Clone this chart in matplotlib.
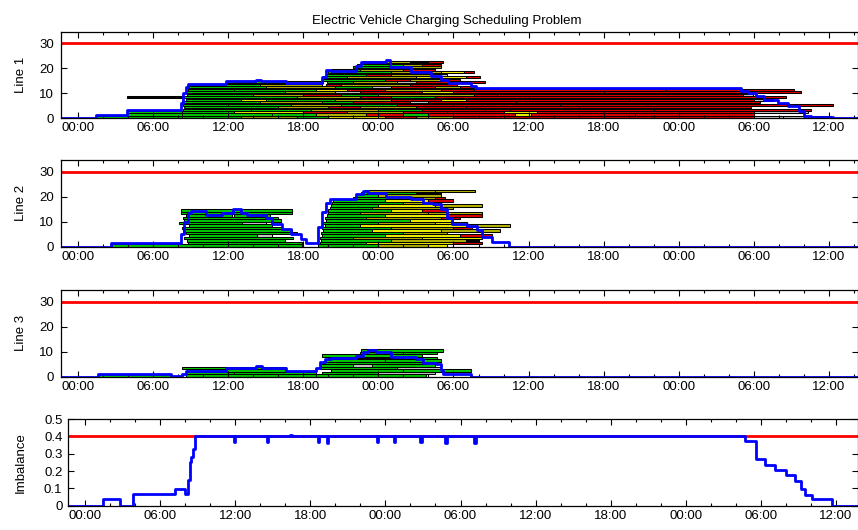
import matplotlib
matplotlib.use("Agg")
import matplotlib.pyplot as plt
from matplotlib.ticker import MultipleLocator, FuncFormatter

plt.rcParams['font.family'] = ['Liberation Sans', 'DejaVu Sans']
plt.rcParams['font.size'] = 9.5

# charging state of a vehicle segment -> colour
STATE_COLORS = {'G': '#00c800', 'O': '#b4b400', 'Y': '#f0f000',
                'R': '#e00000', 'S': '#c8c8c8', 'K': '#000000'}

LINE_LIMIT = 30
IMBALANCE_LIMIT = 0.4

# one list per stacking row: (start hour, end hour, state)
LINE1_ROWS = [
    [(1.4, 8.3, 'G'), (8.3, 13.0, 'G'), (13.0, 17.5, 'O'), (17.5, 20.0, 'G'), (20.0, 24.5, 'Y'), (24.5, 27.0, 'R'),
     (27.0, 30.0, 'O'), (30.0, 42.0, 'R'), (42.0, 54.0, 'R'), (54.0, 56.3, 'S'), (56.3, 58.3, 'S'), (58.3, 60.2, 'S')],
    [(3.9, 8.3, 'G'), (8.3, 15.5, 'G'), (15.5, 19.0, 'G'), (19.0, 23.0, 'O'), (23.0, 26.0, 'R'), (26.0, 28.0, 'G'),
     (28.0, 34.9, 'R'), (34.9, 36.2, 'Y'), (36.2, 44.5, 'R'), (44.5, 54.0, 'R')],
    [(3.9, 8.3, 'G'), (8.3, 12.5, 'G'), (12.5, 18.0, 'Y'), (18.0, 21.5, 'R'), (21.5, 26.0, 'O'), (26.0, 29.5, 'R'),
     (29.5, 34.0, 'R'), (34.0, 36.7, 'Y'), (36.7, 54.0, 'R'), (54.0, 58.3, 'S')],
    [(8.4, 13.8, 'G'), (13.8, 18.6, 'G'), (18.6, 24.0, 'O'), (24.0, 27.5, 'G'), (27.5, 32.5, 'R'), (32.5, 34.5, 'R'),
     (34.5, 46.0, 'R'), (46.0, 58.6, 'R')],
    [(8.5, 16.0, 'G'), (16.0, 20.0, 'O'), (20.0, 22.5, 'R'), (22.5, 27.0, 'O'), (27.0, 31.0, 'R'), (31.0, 40.0, 'R'),
     (40.0, 53.8, 'R')],
    [(8.4, 12.0, 'G'), (12.0, 17.0, 'G'), (17.0, 21.0, 'O'), (21.0, 25.5, 'G'), (25.5, 30.0, 'R'), (30.0, 38.5, 'R'),
     (38.5, 60.3, 'R')],
    [(8.3, 14.5, 'G'), (14.5, 19.5, 'O'), (19.5, 22.0, 'G'), (22.0, 26.5, 'R'), (26.5, 28.0, 'S'), (28.0, 35.0, 'R'),
     (35.0, 54.5, 'R')],
    [(8.6, 13.0, 'G'), (13.0, 15.0, 'Y'), (15.0, 20.5, 'G'), (20.5, 25.0, 'O'), (25.0, 29.0, 'R'), (29.0, 31.0, 'Y'),
     (31.0, 44.0, 'R'), (44.0, 54.0, 'R'), (54.0, 55.5, 'S')],
    [(3.9, 8.3, 'K'), (8.5, 17.5, 'G'), (17.5, 22.5, 'O'), (22.5, 25.0, 'R'), (25.0, 28.5, 'G'), (28.5, 36.0, 'R'),
     (36.0, 56.6, 'R')],
    [(8.7, 14.0, 'G'), (14.0, 18.0, 'O'), (18.0, 21.0, 'R'), (21.0, 24.0, 'G'), (24.0, 31.6, 'O'), (31.6, 33.5, 'R'),
     (33.5, 53.1, 'R'), (53.1, 53.9, 'S')],
    [(8.6, 16.5, 'G'), (16.5, 20.5, 'O'), (20.5, 22.5, 'S'), (22.5, 27.5, 'R'), (27.5, 30.0, 'Y'), (30.0, 42.0, 'R'),
     (42.0, 57.8, 'R')],
    [(8.8, 12.5, 'G'), (12.5, 19.0, 'G'), (19.0, 21.5, 'Y'), (21.5, 24.5, 'R'), (24.5, 29.0, 'O'), (29.0, 31.6, 'R'),
     (31.6, 47.0, 'R'), (47.0, 57.2, 'R')],
    [(8.7, 15.0, 'G'), (15.0, 20.5, 'O'), (20.5, 23.5, 'G'), (23.5, 25.0, 'S'), (25.0, 28.5, 'R'), (28.5, 30.5, 'O'),
     (30.5, 31.6, 'R')],
    [(8.9, 14.5, 'G'), (14.5, 19.5, 'O'), (19.8, 21.0, 'R'), (21.0, 26.5, 'O'), (26.5, 30.3, 'R')],
    [(11.8, 16.5, 'G'), (16.5, 19.6, 'O'), (19.9, 22.0, 'G'), (22.0, 25.5, 'O'), (25.5, 27.0, 'S'), (27.0, 32.5, 'R')],
    [(19.5, 24.5, 'G'), (24.5, 26.5, 'R'), (26.5, 29.5, 'O'), (29.5, 30.5, 'R')],
    [(19.6, 21.5, 'G'), (21.5, 27.0, 'O'), (27.0, 31.0, 'Y'), (31.0, 32.1, 'R')],
    [(19.8, 23.0, 'G'), (23.0, 25.0, 'R'), (25.0, 28.5, 'O'), (28.5, 29.5, 'S')],
    [(20.0, 25.0, 'G'), (25.0, 29.0, 'O'), (29.0, 30.8, 'Y'), (30.8, 31.6, 'R')],
    [(20.2, 22.5, 'G'), (22.5, 26.0, 'O'), (26.0, 28.5, 'R')],
    [(22.0, 25.5, 'G'), (25.5, 29.0, 'O')],
    [(22.3, 26.0, 'G'), (26.0, 27.5, 'O'), (27.5, 29.0, 'R')],
    [(22.8, 26.5, 'O'), (26.5, 28.0, 'K'), (28.0, 29.2, 'R')],
]

LINE2_ROWS = [
    [(2.7, 17.9, 'G'), (19.2, 24.0, 'G'), (24.0, 28.0, 'O'), (28.0, 29.5, 'Y')],
    [(8.8, 12.0, 'G'), (12.0, 17.9, 'G'), (19.3, 23.0, 'G'), (23.0, 30.0, 'Y'), (30.0, 32.3, 'R')],
    [(8.7, 16.5, 'G'), (19.4, 25.0, 'G'), (25.0, 31.0, 'O'), (31.0, 32.0, 'K')],
    [(8.5, 17.2, 'G'), (19.3, 22.0, 'G'), (22.0, 27.5, 'O'), (27.5, 32.3, 'Y')],
    [(8.9, 14.3, 'G'), (14.3, 15.5, 'S'), (19.5, 24.5, 'G'), (24.5, 30.5, 'Y'), (30.5, 33.1, 'R')],
    [(8.6, 17.5, 'G'), (19.4, 26.0, 'G'), (26.0, 29.5, 'O')],
    [(8.4, 17.1, 'G'), (19.6, 23.5, 'G'), (23.5, 29.0, 'Y'), (29.0, 33.7, 'O')],
    [(8.3, 16.3, 'G'), (19.5, 25.0, 'G'), (25.0, 30.0, 'O'), (30.0, 31.5, 'R')],
    [(8.9, 15.5, 'G'), (19.7, 22.5, 'G'), (22.5, 31.0, 'Y'), (31.0, 34.5, 'O')],
    [(8.1, 13.1, 'G'), (13.1, 15.0, 'S'), (19.6, 24.0, 'G'), (24.0, 28.5, 'O'), (28.5, 31.1, 'Y')],
    [(8.5, 16.2, 'G'), (19.8, 26.5, 'G'), (26.5, 30.0, 'Y')],
    [(8.4, 16.0, 'G'), (19.7, 23.0, 'G'), (23.0, 29.0, 'O'), (29.0, 30.5, 'R')],
    [(8.6, 12.3, 'G'), (12.5, 15.3, 'G'), (19.9, 24.5, 'G'), (24.5, 29.5, 'Y'), (29.5, 32.3, 'R')],
    [(8.2, 17.1, 'G'), (20.0, 22.5, 'G'), (22.5, 28.0, 'O'), (28.0, 32.3, 'O')],
    [(8.2, 17.1, 'G'), (20.0, 25.0, 'G'), (25.0, 27.5, 'Y'), (27.5, 29.5, 'R')],
    [(20.1, 23.5, 'G'), (23.5, 30.0, 'O')],
    [(20.2, 24.0, 'G'), (24.0, 28.5, 'Y'), (28.5, 32.3, 'O')],
    [(20.3, 26.0, 'G'), (26.0, 29.0, 'O')],
    [(20.4, 24.5, 'G'), (24.5, 28.0, 'Y'), (28.0, 30.0, 'R')],
    [(22.0, 25.5, 'G'), (25.5, 28.5, 'O'), (28.5, 29.3, 'R')],
    [(22.3, 24.0, 'G'), (24.0, 29.0, 'O')],
    [(22.6, 27.0, 'G'), (27.0, 29.0, 'K')],
    [(22.9, 28.5, 'O'), (28.5, 31.7, 'O')],
]

LINE3_ROWS = [
    [(1.6, 7.4, 'G'), (8.6, 19.0, 'G'), (19.0, 27.8, 'G')],
    [(8.6, 12.5, 'G'), (12.5, 19.0, 'G'), (19.5, 24.0, 'G'), (24.0, 28.5, 'S')],
    [(8.7, 16.6, 'G'), (20.2, 26.0, 'G'), (26.0, 31.4, 'G')],
    [(8.3, 16.6, 'G'), (19.3, 25.5, 'G'), (25.5, 29.0, 'S')],
    [(19.4, 22.0, 'G'), (22.0, 23.5, 'S'), (23.5, 28.5, 'G')],
    [(19.6, 27.5, 'G'), (27.5, 28.5, 'K')],
    [(19.8, 24.5, 'G'), (24.5, 29.0, 'G')],
    [(20.0, 26.0, 'K'), (26.0, 28.7, 'G')],
    [(19.5, 27.5, 'G')],
    [(22.5, 26.0, 'G'), (26.0, 28.7, 'G')],
    [(22.6, 29.2, 'G')],
]

# total load per line (step, hours)
LINE1_T = [-1.4, 1.4, 3.9, 8.2, 8.4, 8.6, 8.8, 11.8, 14.2, 14.6, 16.6, 19.5, 19.8, 20.2, 22.2, 22.6, 24.6, 24.9,
           26.6, 28.2, 29.0, 29.6, 31.4, 31.8, 53.0, 53.5, 54.2, 54.8, 55.9, 56.7, 57.6, 58.0, 58.6, 60.3, 62.4]
LINE1_LOAD = [0, 1.2, 3.4, 6, 10, 12.5, 13.6, 14.8, 15.5, 15.0, 14.0, 16.5, 19.5, 19.0, 21.0, 22.5, 23.5, 20.5,
              18.5, 17.0, 15.3, 14.0, 13.0, 12.2, 11.0, 10.0, 9.0, 7.5, 6.0, 5.0, 3.0, 1.0, 0.5, 0.0, 0.0]

LINE2_T = [-1.4, 2.6, 8.2, 8.5, 8.8, 9.0, 10.2, 11.5, 12.4, 13.0, 13.5, 15.0, 15.5, 16.3, 17.0, 17.8, 18.2, 19.2,
           19.5, 19.8, 20.1, 22.2, 22.8, 23.2, 24.6, 26.6, 27.6, 28.4, 29.0, 29.5, 29.9, 31.1, 31.9, 32.3, 33.1,
           34.4, 62.4]
LINE2_LOAD = [0, 1.3, 5, 10, 13.5, 14.3, 12.8, 13.5, 15.0, 13.5, 12.6, 11.6, 9.2, 7.0, 5.0, 3.0, 1.6, 8.0,
              14.0, 17.5, 19.0, 21.0, 22.5, 21.5, 20.0, 19.0, 17.5, 17.0, 15.0, 11.7, 9.3, 8.2, 6.8, 3.7, 2.0,
              0.0, 0.0]

LINE3_T = [-1.4, 1.6, 7.4, 8.3, 8.6, 11.8, 14.2, 14.7, 16.6, 19.0, 19.3, 19.7, 20.2, 22.2, 22.8, 23.2, 23.8,
           25.0, 27.0, 27.6, 28.6, 29.0, 29.2, 31.4, 62.4]
LINE3_LOAD = [0, 1.0, 0.3, 1.0, 2.2, 3.4, 4.3, 3.4, 2.3, 3.5, 5.8, 7.2, 7.5, 8.5, 10.0, 10.8, 10.0,
              8.0, 7.0, 5.5, 5.0, 2.7, 1.0, 0.0, 0.0]

IMB_T = [-1.4, 1.4, 2.8, 3.8, 7.2, 8.0, 8.2, 8.35, 8.5, 8.6, 8.8, 11.9, 12.0, 14.5, 14.6, 16.4, 16.5, 18.6, 18.7,
         19.3, 19.4, 23.3, 23.4, 24.7, 24.8, 26.8, 26.9, 28.8, 28.9, 31.1, 31.2, 52.7, 53.6, 54.3, 55.1, 56.0,
         56.7, 57.2, 57.5, 58.1, 59.7, 62.0]
IMB_V = [0, 0.038, 0, 0.067, 0.098, 0.07, 0.15, 0.25, 0.28, 0.33, 0.4, 0.37, 0.4, 0.37, 0.4, 0.41, 0.4, 0.37, 0.4,
         0.36, 0.4, 0.37, 0.4, 0.37, 0.4, 0.37, 0.4, 0.365, 0.4, 0.365, 0.4, 0.376, 0.27, 0.234, 0.204, 0.175,
         0.141, 0.096, 0.063, 0.038, 0.0, 0.0]


def hour_label(x, pos):
    return "%02d:00" % (int(round(x)) % 24)


def style_axis(ax, xmax):
    ax.set_xlim(-1.36, xmax)
    ax.xaxis.set_major_locator(MultipleLocator(6))
    ax.xaxis.set_minor_locator(MultipleLocator(2))
    ax.xaxis.set_major_formatter(FuncFormatter(hour_label))
    ax.tick_params(which='both', direction='in', top=True, right=True, width=0.8)
    ax.tick_params(which='major', length=4)
    ax.tick_params(which='minor', length=2.5)
    ax.tick_params(axis='x', pad=3)
    for s in ax.spines.values():
        s.set_linewidth(0.9)


def draw_line(ax, rows, t, load, label):
    for r, segs in enumerate(rows):
        for s, e, st in segs:
            ax.barh(r + 0.5, e - s, left=s, height=0.85, color=STATE_COLORS[st],
                    edgecolor='black', linewidth=0.75)
    ax.axhline(LINE_LIMIT, color='#ff0000', lw=2)
    ax.step(t, load, where='post', color='#0000ff', lw=2)
    ax.set_ylim(0, 34.7)
    ax.yaxis.set_major_locator(MultipleLocator(10))
    ax.tick_params(axis='y', pad=5)
    ax.set_ylabel(label)
    ax.yaxis.set_label_coords(-0.05, 0.5)
    ax.yaxis.label.set_verticalalignment('center')
    style_axis(ax, 62.32)


fig = plt.figure(figsize=(8.58, 5.30), dpi=100)
h = 0.1634
ax1 = fig.add_axes([0.0711, 0.7768, 0.9289, h])
ax2 = fig.add_axes([0.0711, 0.5345, 0.9289, h])
ax3 = fig.add_axes([0.0711, 0.2892, 0.9289, h])
ax4 = fig.add_axes([0.0793, 0.0458, 0.9207, h])

draw_line(ax1, LINE1_ROWS, LINE1_T, LINE1_LOAD, "Line 1")
draw_line(ax2, LINE2_ROWS, LINE2_T, LINE2_LOAD, "Line 2")
draw_line(ax3, LINE3_ROWS, LINE3_T, LINE3_LOAD, "Line 3")

ax4.axhline(IMBALANCE_LIMIT, color='#ff0000', lw=2)
ax4.step(IMB_T, IMB_V, where='post', color='#0000ff', lw=2)
ax4.set_ylim(0, 0.5)
ax4.yaxis.set_major_locator(MultipleLocator(0.1))
ax4.yaxis.set_major_formatter(FuncFormatter(lambda v, p: "0" if abs(v) < 1e-9 else "%.1f" % v))
ax4.tick_params(axis='y', pad=4)
ax4.set_ylabel("Imbalance")
ax4.yaxis.set_label_coords(-0.06, 0.5)
ax4.yaxis.label.set_verticalalignment('center')
style_axis(ax4, 61.76)

fig.text(447 / 858, 1 - 24 / 530, "Electric Vehicle Charging Scheduling Problem",
         ha='center', va='baseline', fontsize=9.5)

fig.savefig("out.png", dpi=100)
